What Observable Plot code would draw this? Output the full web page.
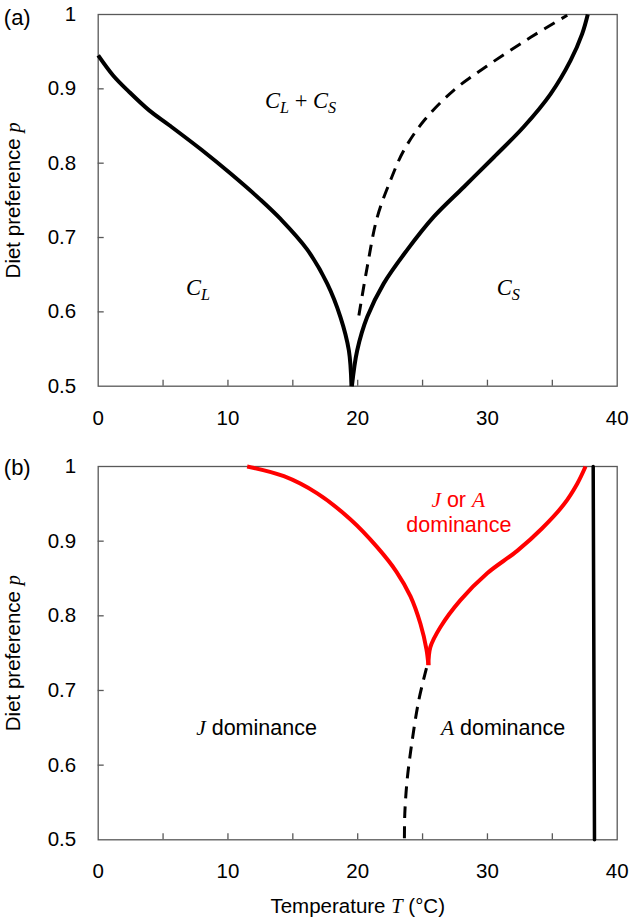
<!DOCTYPE html>
<html><head><meta charset="utf-8">
<script src="https://cdn.jsdelivr.net/npm/d3@7"></script>
<script src="https://cdn.jsdelivr.net/npm/@observablehq/plot@0.6"></script>
<style>
body{margin:0;background:#fff;}
#chart{width:630px;height:924px;}
#chart svg{display:block;}
</style></head><body><div id="chart"></div>
<script>
// ---- ticks ----
const xTickValues = [0, 10, 20, 30, 40];
const xMinorTicks = [5, 10, 15, 20, 25, 30, 35];
const yTickValues = [0.5, 0.6, 0.7, 0.8, 0.9, 1];
const yInnerTicks = [0.6, 0.7, 0.8, 0.9];

// ---- panel (a) curves: [T, p] ----
const aLeftSolid = [[0,0.945],[1.15,0.918],[2.38,0.896],[3.93,0.871],[5.48,0.851],[7.96,0.818],[10.2,0.786],[12.5,0.751],[14.05,0.725],[16.1,0.684],[17.65,0.638],[18.67,0.593],[19.32,0.548],[19.52,0.5]];
const aRightSolid = [[19.55,0.5],[19.96,0.548],[20.73,0.593],[22.0,0.638],[23.8,0.683],[25.87,0.728],[28.18,0.768],[30.49,0.808],[32.8,0.849],[34.86,0.893],[36.4,0.938],[37.3,0.974],[37.73,1.0]];
const aDashed = [[20.09,0.595],[20.73,0.66],[21.5,0.727],[22.53,0.777],[23.55,0.817],[25.1,0.857],[27.4,0.898],[30.24,0.934],[33.3,0.969],[36.15,0.999]];
const aLabels = ["*C*_L + *C*_S", "*C*_L", "*C*_S"];
const aLabelT = [15.6, 7.7, 31.6];
const aLabelP = [0.884, 0.633, 0.633];

// ---- panel (b) curves ----
const bRedLeft = [[11.48,1.0],[14.31,0.987],[16.88,0.964],[19.45,0.929],[21.5,0.892],[22.99,0.859],[24.07,0.826],[24.84,0.789],[25.3,0.755],[25.45,0.734]];
const bRedRight = [[25.45,0.734],[25.6,0.758],[26.38,0.785],[27.92,0.821],[29.98,0.857],[32.29,0.887],[34.2,0.917],[35.88,0.949],[36.92,0.977],[37.56,1.0]];
const bDashed = [[25.3,0.73],[24.71,0.687],[24.2,0.633],[23.81,0.58],[23.63,0.535],[23.6,0.5]];
const bVertical = [[38.15,1.0],[38.25,0.5]];
const bLabels = ["*J* or *A*", "dominance", "*J* dominance", "*A* dominance"];
const bLabelT = [27.75, 27.8, 12.2, 31.2];
const bLabelP = [0.955, 0.922, 0.649, 0.649];
const bLabelColor = ["#ff0000", "#ff0000", "black", "black"];

const xTitle = "Temperature *T* (°C)";
const yTitle = "Diet preference *p*";

const SANS = "'Liberation Sans', Arial, sans-serif";
const SERIF = "'Liberation Serif', 'Times New Roman', serif";
const W = 630, ML = 97.7, MR = 13.3;
const FRAME = "#595959";

function richify(svg) {
  d3.select(svg).selectAll("text").each(function () {
    const t = this.textContent;
    if (!/[*_]/.test(t)) return;
    const sel = d3.select(this);
    sel.text(null);
    const re = /\*([^*]+)\*|_(\w)|([^*_]+)/g;
    let m, shifted = false;
    while ((m = re.exec(t))) {
      if (m[1]) {
        const ts = sel.append("tspan").attr("font-family", SERIF).attr("font-style", "italic").text(m[1]);
        if (shifted) { ts.attr("dy", -5); shifted = false; }
      } else if (m[2]) {
        sel.append("tspan").attr("font-family", SERIF).attr("font-style", "italic")
          .attr("font-size", "72%").attr("dy", 5).text(m[2]);
        shifted = true;
      } else {
        const ts = sel.append("tspan").text(m[3]);
        if (shifted) { ts.attr("dy", -5); shifted = false; }
      }
    }
  });
}

function panel({height, marginTop, marginBottom, tag, tagDy, lines, labels, showXTitle}) {
  const innerH = height - marginTop - marginBottom;
  const innerW = W - ML - MR;
  const marks = [
    Plot.frame({stroke: FRAME, strokeWidth: 1.3}),
    Plot.tickX(xMinorTicks, {x: d => d, stroke: FRAME, strokeWidth: 1.3, insetTop: innerH - 6}),
    Plot.tickY(yInnerTicks, {y: d => d, stroke: FRAME, strokeWidth: 1.3, insetRight: innerW - 6}),
    Plot.axisX(xTickValues, {tickSize: 0, tickPadding: 24, label: null, fontSize: 20.5, tickFormat: d => String(d)}),
    Plot.axisY(yTickValues, {tickSize: 0, tickPadding: 22, label: null, fontSize: 20.5, tickFormat: d => String(d)}),
    Plot.text([tag], {frameAnchor: "top-left", dx: 3.3 - ML, dy: tagDy, textAnchor: "start", lineAnchor: "middle", fontSize: 22}),
    Plot.text([yTitle], {frameAnchor: "left", rotate: -90, dx: 12.5 - ML, textAnchor: "middle", lineAnchor: "middle", fontSize: 20.5}),
    ...labels,
    ...lines
  ];
  if (showXTitle) marks.push(Plot.text([xTitle], {frameAnchor: "bottom", dy: 58.5, lineAnchor: "top", fontSize: 20.5}));
  const svg = Plot.plot({
    width: W, height, marginLeft: ML, marginRight: MR, marginTop, marginBottom,
    x: {domain: [0, 40], label: null},
    y: {domain: [0.5, 1], label: null},
    style: {fontFamily: SANS, fontSize: "20.5px", color: "black", background: "white", overflow: "visible"},
    marks
  });
  richify(svg);
  return svg;
}

const lineOpts = {x: d => d[0], y: d => d[1], curve: "catmull-rom", strokeLinecap: "butt"};

const svgA = panel({
  height: 440, marginTop: 14, marginBottom: 54.3, tag: "(a)", tagDy: 3.5,
  lines: [
    Plot.line(aLeftSolid, {...lineOpts, stroke: "black", strokeWidth: 4}),
    Plot.line(aRightSolid, {...lineOpts, stroke: "black", strokeWidth: 4}),
    Plot.line(aDashed, {...lineOpts, stroke: "black", strokeWidth: 3, strokeDasharray: "12,8"})
  ],
  labels: [
    Plot.text(aLabels, {x: (d, i) => aLabelT[i], y: (d, i) => aLabelP[i], text: d => d, fontFamily: SERIF, fontSize: 22.5, textAnchor: "middle", lineAnchor: "middle"})
  ],
  showXTitle: false
});

const svgB = panel({
  height: 484, marginTop: 26, marginBottom: 84.7, tag: "(b)", tagDy: 1.5,
  lines: [
    Plot.line(bRedLeft, {...lineOpts, stroke: "#ff0000", strokeWidth: 4}),
    Plot.line(bRedRight, {...lineOpts, stroke: "#ff0000", strokeWidth: 4}),
    Plot.line(bDashed, {...lineOpts, stroke: "black", strokeWidth: 3, strokeDasharray: "12,8"}),
    Plot.line(bVertical, {x: d => d[0], y: d => d[1], stroke: "black", strokeWidth: 3.5})
  ],
  labels: [
    Plot.text(bLabels, {x: (d, i) => bLabelT[i], y: (d, i) => bLabelP[i], text: d => d, fill: (d, i) => bLabelColor[i], fontSize: 21.5, textAnchor: "middle", lineAnchor: "middle"})
  ],
  showXTitle: true
});

document.getElementById("chart").append(svgA, svgB);
</script>
</body></html>
